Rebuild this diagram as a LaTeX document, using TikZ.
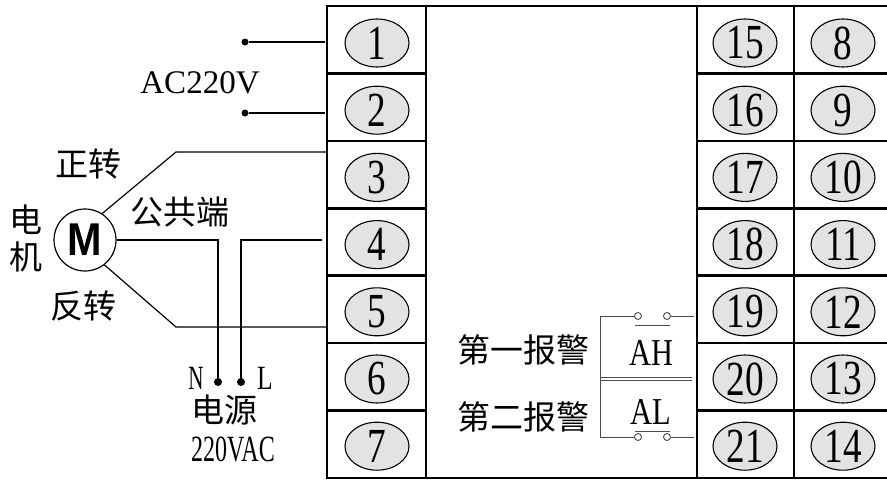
\documentclass[tikz,border=0pt]{standalone}
\usepackage{graphicx}
\usepackage{fontspec}
\setmainfont{Liberation Serif}
\newfontfamily\cjk{Noto Sans CJK SC}
\newfontfamily\msans{Liberation Sans}
\usetikzlibrary{shapes.geometric}
\newcommand\cnd[2]{\scalebox{#1}[1]{#2}}
\begin{document}
\begin{tikzpicture}[x=1pt,y=-1pt,
  frame/.style={line width=2.6pt},
  term/.style={ellipse, draw, line width=1.1pt, fill=gray!22, minimum width=64pt, minimum height=48pt, inner sep=0pt, font=\fontsize{49}{49}\selectfont},
  wire/.style={line width=1.2pt},
  awire/.style={line width=1pt, draw=black!70},
  dotn/.style={circle, fill=black, inner sep=0pt, minimum size=8pt},
  cont/.style={circle, draw=black!70, fill=white, line width=0.9pt, inner sep=0pt, minimum size=7pt},
  cn/.style={font=\cjk\fontsize{33}{33}\selectfont, inner sep=0pt},
  lat/.style={font=\fontsize{33}{33}\selectfont, inner sep=0pt}]
\useasboundingbox (0,0) rectangle (887,482);
\fill[white] (0,0) rectangle (887,482);
% frame
\draw[frame] (327,6) rectangle (900,478);
\draw[frame] (426,6) -- (426,478);
\draw[frame] (697,6) -- (697,478);
\draw[frame] (794,6) -- (794,478);
\foreach \i in {1,...,6}{
  \pgfmathsetmacro{\yy}{6+\i*67.43}
  \draw[frame] (327,\yy) -- (426,\yy);
  \draw[frame] (697,\yy) -- (900,\yy);
}
% terminals
\foreach \n [count=\k from 0] in {1,...,7}{
  \pgfmathsetmacro{\yy}{43+\k*67.2}
  \node[term] (t\n) at (377,\yy) {\cnd{0.76}{\n}};
}
\foreach \n [count=\k from 0] in {15,...,21}{
  \pgfmathsetmacro{\yy}{43+\k*67.2}
  \node[term] (t\n) at (745,\yy) {\cnd{0.76}{\n}};
}
\foreach \n [count=\k from 0] in {8,...,14}{
  \pgfmathsetmacro{\yy}{43+\k*67.2}
  \node[term] (t\n) at (843,\yy) {\cnd{0.76}{\n}};
}
% AC220V
\node[dotn, minimum size=7pt] (d1) at (245,42) {};
\node[dotn, minimum size=7pt] (d2) at (245,113) {};
\coordinate (p1) at (325,42);
\coordinate (p2) at (325,113);
\draw[wire] (d1) -- (p1);
\draw[wire] (d2) -- (p2);
\node[lat] (ac) at (200,83) {AC220V};
% motor
\node[circle, draw, line width=1.2pt, minimum size=62pt, inner sep=0pt] (mot) at (85,240)
  {\msans\bfseries\fontsize{46}{46}\selectfont\cnd{0.9}{M}};
\coordinate (p3) at (327,152);
\coordinate (p4) at (322,240);
\coordinate (p5) at (327,327);
\draw[wire] (mot.57) -- (176,152) -- (p3);
\draw[wire] (mot.-52) -- (176,327) -- (p5);
\node[dotn] (nN) at (218,382) {};
\node[dotn] (nL) at (241,382) {};
\draw[wire] (mot.east) -| (nN.center);
\draw[wire] (nL.center) |- (p4);
\node[cn] (zz) at (89,164) {正转};
\node[cn] (gg) at (180,212) {公共端};
\node[cn] (dj1) at (26,220) {电};
\node[cn] (dj2) at (26,257) {机};
\node[cn] (fz) at (83,306) {反转};
\node[font=\fontsize{34}{34}\selectfont, inner sep=0pt] (lN) at (196,378) {\cnd{0.62}{N}};
\node[font=\fontsize{34}{34}\selectfont, inner sep=0pt] (lL) at (265,378) {\cnd{0.75}{L}};
\node[cn] (dy) at (224,410) {电源};
\node[font=\fontsize{37}{37}\selectfont, inner sep=0pt] (vac) at (233,449) {\cnd{0.65}{220VAC}};
% alarms
\node[cont] (c1) at (638,316) {};
\node[cont] (c2) at (667,316) {};
\node[cont] (c3) at (638,437) {};
\node[cont] (c4) at (667,437) {};
\coordinate (a19) at (694,316);
\coordinate (a21) at (694,437);
\draw[awire] (c2) -- (a19);
\draw[awire] (c4) -- (a21);
\draw[awire] (c1) -- (600,316) -- (600,437) -- (c3);
\draw[awire] (635,325) -- (670,325);
\draw[awire] (635,431) -- (670,431);
\draw[awire] (600,377) -- (692,377);
\draw[awire] (600,380.5) -- (692,380.5);
\node[font=\fontsize{38}{38}\selectfont, inner sep=0pt] (ah) at (651,353) {\cnd{0.8}{AH}};
\node[font=\fontsize{38}{38}\selectfont, inner sep=0pt] (al) at (651,412) {\cnd{0.8}{AL}};
\node[cn] (b1) at (523,350) {第一报警};
\node[cn] (b2) at (523,417) {第二报警};
\end{tikzpicture}
\end{document}
